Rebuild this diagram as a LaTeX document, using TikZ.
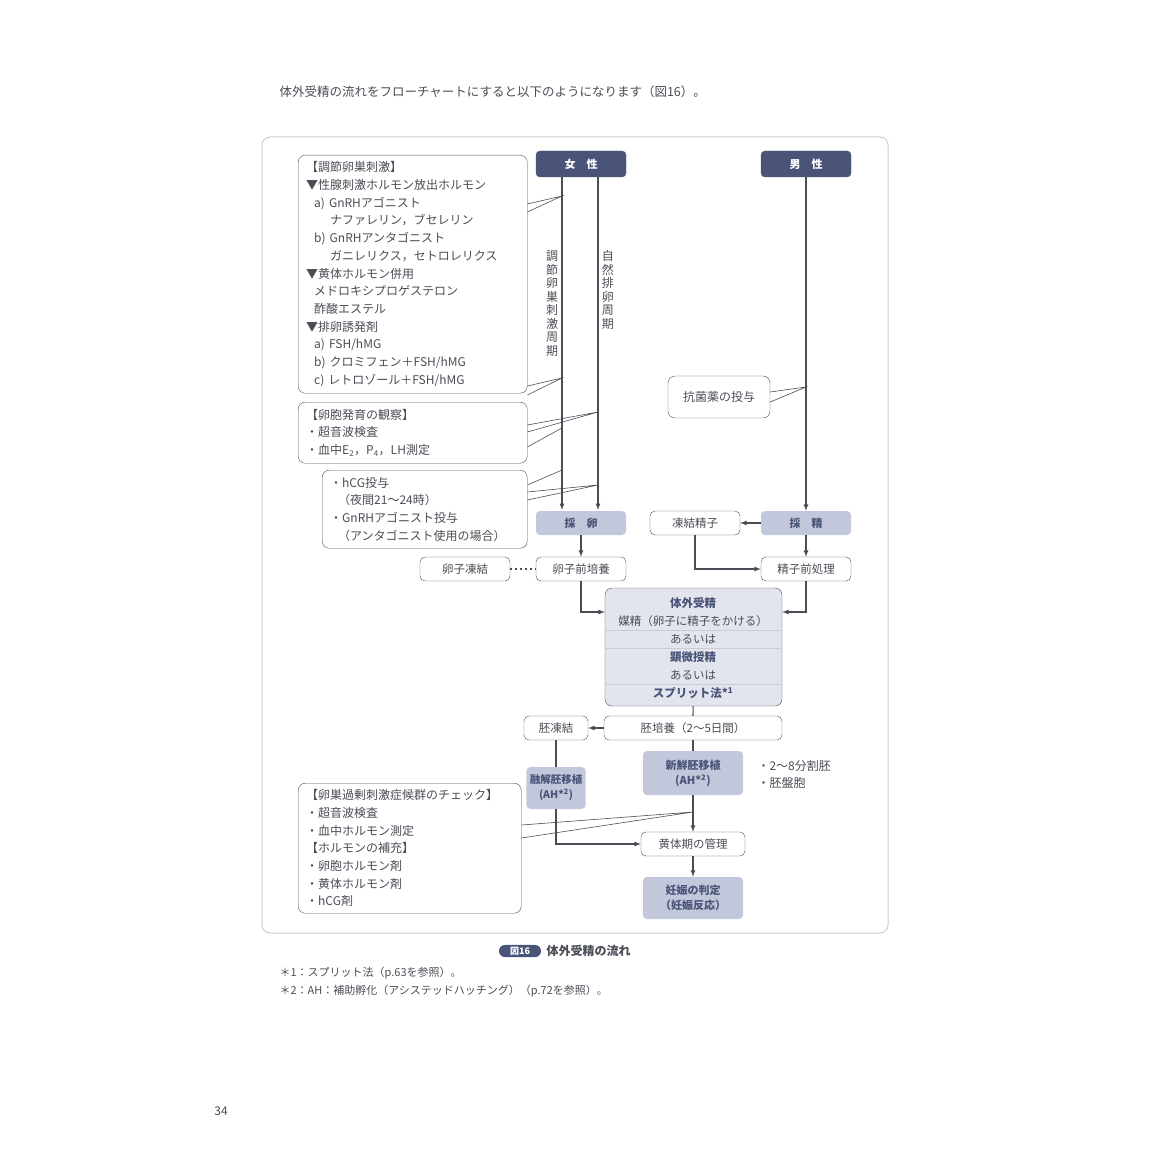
\documentclass[tikz,border=0pt]{standalone}
\usepackage{fontspec}
\setmainfont{Noto Sans CJK JP}
\usetikzlibrary{positioning}
\definecolor{navy}{HTML}{4A5478}
\definecolor{lav}{HTML}{C3C7DC}
\definecolor{pale}{HTML}{E3E5EE}
\definecolor{ink}{HTML}{4A4D55}
\tikzset{
  sex/.style={draw=navy,fill=navy,text=white,rounded corners=4pt,minimum width=90pt,minimum height=26pt,font=\fontsize{11}{13}\selectfont\bfseries},
  proc/.style={fill=lav,text=navy,rounded corners=4pt,minimum width=90pt,minimum height=24pt,font=\fontsize{11}{13}\selectfont\bfseries},
  plain/.style={draw=ink,fill=white,rounded corners=5pt,minimum width=90pt,minimum height=24pt,text=ink,font=\fontsize{11.5}{13}\selectfont},
  note/.style={draw=ink,fill=white,rounded corners=7pt,text=ink,align=left,anchor=north west,inner xsep=8pt,inner ysep=4pt,font=\fontsize{12}{17.7}\selectfont},
  flow/.style={draw=ink,line width=1.2pt,-latex},
  link/.style={draw=ink,line width=1.2pt},
  tip/.style={draw=ink,line width=0.6pt},
}
\begin{document}
\begin{tikzpicture}[x=1pt,y=-1pt]
  \useasboundingbox (0,0) rectangle (1150,1150);
  \node[text=ink,font=\fontsize{12.5}{14}\selectfont,anchor=west] (head) at (276,92) {体外受精の流れをフローチャートにすると以下のようになります（図16）。};
  \draw[gray!40,line width=1pt,rounded corners=8pt] (262,137) rectangle (888,933);

  % start nodes
  \node[sex] (fem) at (581,164) {女\quad 性};
  \node[sex] (mal) at (806,164) {男\quad 性};
  \node[proc] (egg) at (581,523) {採\quad 卵};
  \node[proc] (sperm) at (806,523) {採\quad 精};
  \node[plain] (frozsp) at (695,523) {凍結精子};
  \node[plain] (eggfrz) at (465,569) {卵子凍結};
  \node[plain] (eggpre) at (581,569) {卵子前培養};
  \node[plain] (sppre) at (806,569) {精子前処理};

  % female cycles
  \coordinate (c1) at (562,177); \coordinate (c1e) at (562,510);
  \coordinate (c2) at (598,177); \coordinate (c2e) at (598,510);
  \draw[flow] (c1) -- (c1e) node[pos=0.21,left,anchor=north east,text=ink,font=\fontsize{12}{13.5}\selectfont,align=center] {調\\節\\卵\\巣\\刺\\激\\周\\期};
  \draw[flow] (c2) -- (c2e) node[pos=0.21,anchor=north west,text=ink,font=\fontsize{12}{13.5}\selectfont,align=center] {自\\然\\排\\卵\\周\\期};
  \draw[flow] (mal) -- (sperm);

  % IVF box
  \node[draw=ink,fill=pale,rounded corners=7pt,minimum width=177pt,minimum height=118pt] (ivf) at (693.5,647) {};
  \node[text=navy,font=\fontsize{11.5}{13}\selectfont\bfseries] (ivf1) at (693,603) {体外受精};
  \node[text=ink,font=\fontsize{11.5}{13}\selectfont] (ivf2) at (693,621) {媒精（卵子に精子をかける）};
  \node[text=ink,font=\fontsize{11.5}{13}\selectfont] (ivf3) at (693,639) {あるいは};
  \node[text=navy,font=\fontsize{11.5}{13}\selectfont\bfseries] (ivf4) at (693,657) {顕微授精};
  \node[text=ink,font=\fontsize{11.5}{13}\selectfont] (ivf5) at (693,675) {あるいは};
  \node[text=navy,font=\fontsize{11.5}{13}\selectfont\bfseries] (ivf6) at (693,693) {スプリット法*\textsuperscript{1}};
  \draw[gray!40] (606,630) -- (781,630) (606,648) -- (781,648) (606,684) -- (781,684);

  \node[plain,minimum width=178pt] (cult) at (693,728) {胚培養（2〜5日間）};
  \node[plain,minimum width=64pt] (embfrz) at (556,728) {胚凍結};
  \node[proc,minimum width=58pt,minimum height=42pt,align=center,font=\fontsize{10.5}{15}\selectfont\bfseries] (thaw) at (556,788) {融解胚移植\\(AH*\textsuperscript{2})};
  \node[proc,minimum width=100pt,minimum height=44pt,align=center,font=\fontsize{11}{15}\selectfont\bfseries] (fresh) at (693,773) {新鮮胚移植\\(AH*\textsuperscript{2})};
  \node[text=ink,align=left,anchor=west,font=\fontsize{12}{17}\selectfont] (stage) at (754,774) {・2〜8分割胚\\・胚盤胞};
  \node[plain,minimum width=104pt] (luteal) at (693,844) {黄体期の管理};
  \node[proc,minimum width=100pt,minimum height=42pt,align=center,font=\fontsize{11}{15}\selectfont\bfseries] (preg) at (693,898) {妊娠の判定\\（妊娠反応）};

  % connectors
  \draw[flow] (egg) -- (eggpre);
  \draw[ink,line width=2pt,dash pattern=on 2pt off 3pt] (eggfrz) -- (eggpre);
  \draw[flow] (sperm) -- (frozsp);
  \draw[flow] (sperm) -- (sppre);
  \draw[flow] (frozsp.south) |- (sppre.west);
  \draw[flow] (eggpre.south) |- (ivf.west |- 0,612);
  \draw[flow] (sppre.south) |- (ivf.east |- 0,612);
  \draw[link] (ivf) -- (cult);
  \draw[flow] (cult) -- (embfrz);
  \draw[link] (embfrz) -- (thaw);
  \draw[link] (cult) -- (fresh);
  \draw[flow] (fresh) -- (luteal);
  \draw[flow] (thaw.south) |- (luteal.west);
  \draw[flow] (luteal) -- (preg);

  % notes
  \node[note,text width=213pt,minimum height=238pt] (stim) at (298,155) {【調節卵巣刺激】\\▼性腺刺激ホルモン放出ホルモン\\\ \ a) GnRHアゴニスト\\\qquad ナファレリン，ブセレリン\\\ \ b) GnRHアンタゴニスト\\\qquad ガニレリクス，セトロレリクス\\▼黄体ホルモン併用\\\ \ メドロキシプロゲステロン\\\ \ 酢酸エステル\\▼排卵誘発剤\\\ \ a) FSH/hMG\\\ \ b) クロミフェン＋FSH/hMG\\\ \ c) レトロゾール＋FSH/hMG};
  \node[note,text width=213pt,minimum height=61pt] (obs) at (298,402) {【卵胞発育の観察】\\・超音波検査\\・血中E\textsubscript{2}，P\textsubscript{4}，LH測定};
  \node[note,text width=189pt,minimum height=78pt] (hcg) at (322,470) {・hCG投与\\\ \ （夜間21〜24時）\\・GnRHアゴニスト投与\\\ \ （アンタゴニスト使用の場合）};
  \node[note,text width=207pt,minimum height=130pt] (ohss) at (298,783) {【卵巣過剰刺激症候群のチェック】\\・超音波検査\\・血中ホルモン測定\\【ホルモンの補充】\\・卵胞ホルモン剤\\・黄体ホルモン剤\\・hCG剤};
  \node[note,anchor=center,minimum width=102pt,minimum height=42pt] (abx) at (719,397) {抗菌薬の投与};

  % callout pointers
  \coordinate (p1) at (562,196); \coordinate (p2) at (562,378);
  \coordinate (p3) at (598,412); \coordinate (p4) at (562,428);
  \coordinate (p5) at (598,485); \coordinate (p6) at (562,470);
  \coordinate (p7) at (693,812); \coordinate (p8) at (806,387);
  \draw[tip] (stim.east |- 0,212) -- (p1) -- (stim.east |- 0,204);
  \draw[tip] (stim.east |- 0,395) -- (p2) -- (stim.east |- 0,386);
  \draw[tip] (obs.east |- 0,432) -- (p3) -- (obs.east |- 0,425);
  \draw[tip] (obs.east |- 0,447) -- (p4);
  \draw[tip] (hcg.east |- 0,500) -- (p5) -- (hcg.east |- 0,492);
  \draw[tip] (hcg.east |- 0,485) -- (p6);
  \draw[tip] (ohss.east |- 0,825) -- (p7) -- (ohss.east |- 0,838);
  \draw[tip] (abx.east |- 0,392) -- (p8) -- (abx.east |- 0,402);

  % caption
  \node[fill=navy,text=white,rounded corners=6pt,font=\fontsize{9}{10}\selectfont\bfseries,inner sep=2pt,minimum width=42pt] (fig) at (520,951) {図16};
  \node[right=2pt of fig,text=ink,font=\fontsize{12}{13}\selectfont\bfseries] (cap) {体外受精の流れ};
  \node[anchor=west,text=ink,align=left,font=\fontsize{11}{18}\selectfont] (foot) at (276,982) {＊1：スプリット法（p.63を参照）。\\＊2：AH：補助孵化（アシステッドハッチング）（p.72を参照）。};
  \node[text=ink,font=\fontsize{12}{13}\selectfont] (page) at (221,1111) {34};
\end{tikzpicture}
\end{document}
